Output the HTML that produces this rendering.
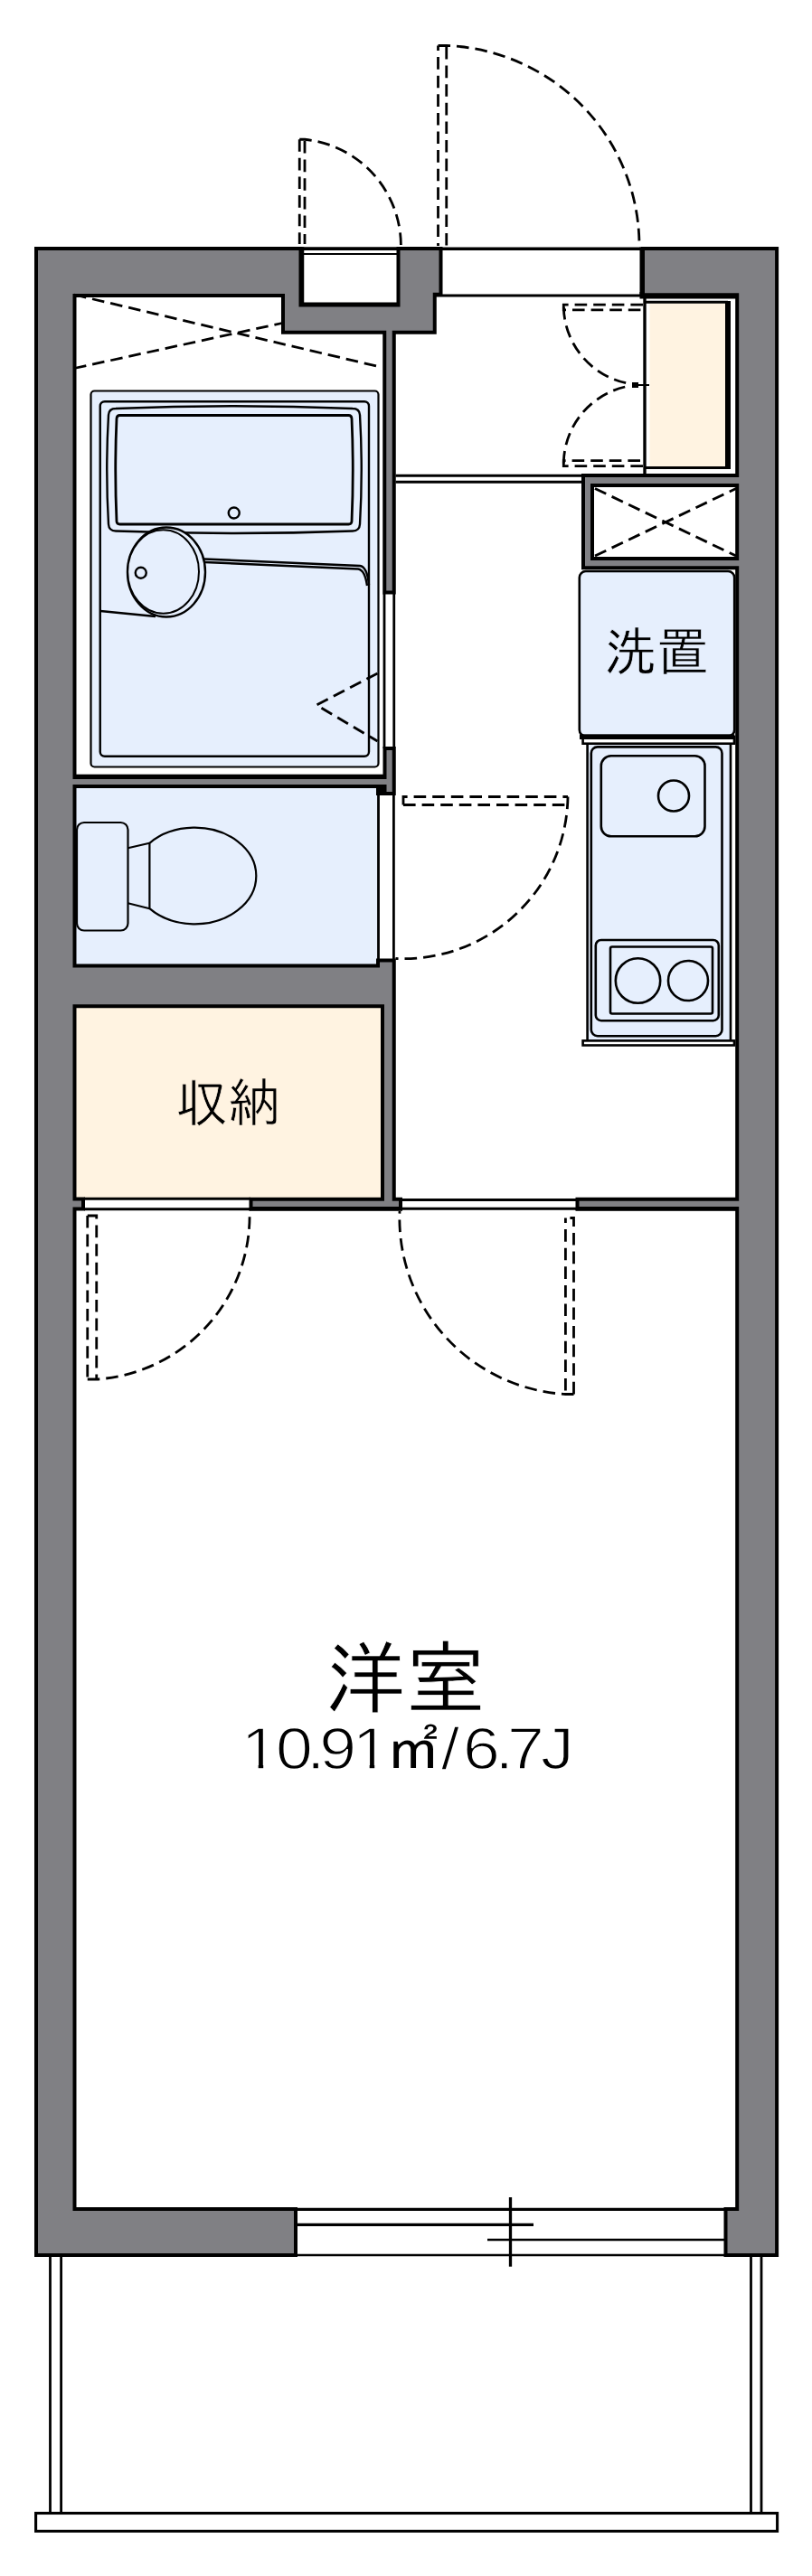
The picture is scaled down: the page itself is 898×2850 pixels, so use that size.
<!DOCTYPE html>
<html lang="ja">
<head>
<meta charset="utf-8">
<title>間取り図</title>
<style>
html,body{margin:0;padding:0;background:#fff}
body{width:898px;height:2850px;overflow:hidden}
svg{display:block}
text{font-family:"Liberation Sans","IPAGothic","Noto Sans CJK JP",sans-serif;fill:#000}
.thin{stroke:#fff;stroke-width:1.5px}
.k1{stroke:#fff;stroke-width:.7px}
.k2{stroke:#fff;stroke-width:.8px}
.dash{fill:none;stroke:#000;stroke-width:2.8;stroke-dasharray:13.6 7}
.ln{fill:none;stroke:#000;stroke-width:2.8}
.fx{fill:none;stroke:#000;stroke-width:2.4}
</style>
</head>
<body>
<svg width="898" height="2850" viewBox="0 0 898 2850">

<rect width="898" height="2850" fill="#fff"/>

<!-- room fills -->
<rect x="84" y="871" width="333" height="196" fill="#e6effd"/>
<rect x="84" y="1115" width="338" height="211" fill="#fff3e1"/>
<rect x="718.5" y="335.5" width="83.5" height="181" fill="#fff3e1"/>

<!-- walls -->
<g fill="#000">
<rect x="330.5" y="273.25" width="5.75" height="66"/>
<rect x="330.5" y="334.5" width="112" height="5"/>
<rect x="707.5" y="273.25" width="6" height="54.5"/>
<rect x="707.5" y="323" width="110" height="7.5"/>
<rect x="416" y="871" width="12" height="9"/>
<rect x="275.5" y="1336" width="169.5" height="3.8"/>
<rect x="636.5" y="1336" width="182" height="3.8"/>
<rect x="80" y="856.7" width="348" height="3"/>
</g>
<g fill="#808084" stroke="#000" stroke-width="8" stroke-linejoin="miter">
<path d="M42,277 H330.5 V339.5 H442.5 V277 H485.5 V323.75 H478.75 V365.75 H315 V325 H80.5 V2446 H325 V2493 H42 Z"/>
<path d="M713,277 H857.1 V2493 H804.5 V2446 H817.2 V324.3 H713 Z"/>
<rect x="427.25" y="360" width="6.5" height="293.5"/>
<rect x="427.5" y="830" width="6.25" height="46"/>
<rect x="80" y="862" width="350" height="6"/>
<path d="M80,1070.6 H420 V1064.5 H433.75 V1328.75 H441 V1335 H279.5 V1328.75 H425 V1111.25 H80 Z"/>
<rect x="640.5" y="1328.75" width="178" height="6.25"/>
<rect x="80" y="1328.5" width="10" height="7"/>
<path d="M647,528 H818.5 V535 H653 V620 H818.5 V626.25 H647 Z"/>
</g>
<g fill="#808084" stroke="none">
<path d="M42,277 H330.5 V339.5 H442.5 V277 H485.5 V323.75 H478.75 V365.75 H315 V325 H80.5 V2446 H325 V2493 H42 Z"/>
<path d="M713,277 H857.1 V2493 H804.5 V2446 H817.2 V324.3 H713 Z"/>
<rect x="427.25" y="360" width="6.5" height="293.5"/>
<rect x="427.5" y="830" width="6.25" height="46"/>
<rect x="80" y="862" width="350" height="6"/>
<path d="M80,1070.6 H420 V1064.5 H433.75 V1328.75 H441 V1335 H279.5 V1328.75 H425 V1111.25 H80 Z"/>
<rect x="640.5" y="1328.75" width="178" height="6.25"/>
<rect x="80" y="1328.5" width="10" height="7"/>
<path d="M647,528 H818.5 V535 H653 V620 H818.5 V626.25 H647 Z"/>
</g>

<!-- shoe cabinet lines -->
<g class="ln">
<line x1="713" y1="334.25" x2="805" y2="334.25"/>
<line x1="713" y1="517.5" x2="805" y2="517.5"/>
<line x1="713" y1="327" x2="713" y2="524" stroke-width="3.4"/>
</g>
<rect x="802" y="333" width="6" height="186" fill="#000"/>

<!-- thin frame lines -->
<g class="ln">
<line x1="334" y1="281" x2="440" y2="281" stroke-width="2"/>
<line x1="330.5" y1="275.1" x2="442.5" y2="275.1" stroke-width="3.75"/>
<line x1="489" y1="275.3" x2="708" y2="275.3" stroke-width="3.4"/>
<line x1="482" y1="327" x2="708" y2="327" stroke-width="3.2"/>
<line x1="437.5" y1="526.25" x2="643" y2="526.25"/>
<line x1="437.5" y1="533.25" x2="643" y2="533.25"/>
<line x1="425" y1="657" x2="425" y2="828"/>
<line x1="435.75" y1="657" x2="435.75" y2="828"/>
<line x1="418.5" y1="880" x2="418.5" y2="1061"/>
<line x1="435.4" y1="880" x2="435.4" y2="1061"/>
<line x1="93" y1="1326.25" x2="277" y2="1326.25"/>
<line x1="93" y1="1337.75" x2="277" y2="1337.75"/>
<line x1="444" y1="1327.5" x2="638" y2="1327.5"/>
<line x1="444" y1="1337.25" x2="638" y2="1337.25"/>
<!-- bottom window -->
<line x1="328" y1="2444.4" x2="803" y2="2444.4" stroke-width="3.3"/>
<line x1="328" y1="2461.4" x2="590" y2="2461.4" stroke-width="3.4"/>
<line x1="539" y1="2478" x2="803" y2="2478" stroke-width="2.4"/>
<line x1="328" y1="2494.9" x2="803" y2="2494.9" stroke-width="2.5"/>
<line x1="564.5" y1="2431" x2="564.5" y2="2507.7" stroke-width="3.3"/>
<!-- balcony -->
<line x1="55.5" y1="2496" x2="55.5" y2="2780" stroke-width="2.8"/>
<line x1="67.6" y1="2496" x2="67.6" y2="2780" stroke-width="2.8"/>
<line x1="830.5" y1="2496" x2="830.5" y2="2780" stroke-width="2.8"/>
<line x1="842" y1="2496" x2="842" y2="2780" stroke-width="2.8"/>
<rect x="39.6" y="2780.5" width="820" height="19.9" fill="#fff" stroke-width="3.1"/>
</g>

<!-- dashed doors -->
<g class="dash">
<path d="M331.25,154.25 V270"/>
<path d="M337,156 V270"/>
<path d="M331.25,154.25 H337 A118.2,118.2 0 0 1 443.4,272"/>
<path d="M484.5,50.5 V272" stroke-dashoffset="8"/>
<path d="M493.75,52 V272"/>
<path d="M484.5,50.5 H493.75 A221.6,221.6 0 0 1 707,272"/>
<path d="M711,337.2 H623.3 V342.8 H711"/>
<path d="M623.3,340 A88,88 0 0 0 693.5,424"/>
<path d="M711,515.7 H623.3 V509.7 H711"/>
<path d="M623.3,512.5 A88,88 0 0 1 693.5,427.5"/>
<path d="M82,326 L422.5,406.5"/>
<path d="M82,407.5 L312,357.5"/>
<path d="M658,540.5 L814,615"/>
<path d="M658,615 L814,540.5"/>
<path d="M446,890.5 V881.5 H628"/>
<path d="M446,890.5 H628"/>
<path d="M628,881.5 A182,182 0 0 1 437.5,1060.5"/>
<path d="M96.75,1345 V1526"/>
<path d="M96.75,1345 H106.75 V1526"/>
<path d="M96.75,1526 H106.75 A181.3,181.3 0 0 0 276,1340"/>
<path d="M625.4,1347.5 V1542.5" stroke-dashoffset="8"/>
<path d="M625.4,1347.5 H634.5 V1542.5" stroke-dashoffset="-5"/>
<path d="M634.5,1542.5 H625.4 A195,195 0 0 1 442,1340"/>
</g>
<path d="M699,423 h7 v2 h12 v2 h-12 v2 h-7 z" fill="#000"/>

<!-- bath unit -->
<rect x="100.5" y="432.5" width="318" height="416" rx="4" fill="#e6effd" stroke="#000" stroke-width="2.2"/>
<g class="fx">
<rect x="110.75" y="444.25" width="297.25" height="392.5" rx="5"/>
<path d="M128,452 Q259,446.5 390,452 Q397.5,452 398,459 Q401.5,520 398,580 Q397.5,587.5 390,587.5 Q259,592.5 128,587.5 Q120.5,587.5 120,580 Q116.5,520 120,459 Q120.5,452 128,452 Z"/>
<path d="M132.5,459.5 H385.5 Q388.75,459.5 389,463 Q391.5,520 389,577 Q388.75,580 385.5,580 H132.5 Q129.25,580 129,577 Q126.5,520 129,463 Q129.25,459.5 132.5,459.5 Z" stroke-width="2.8"/>
<circle cx="258.75" cy="567.5" r="6"/>
<ellipse cx="184" cy="633" rx="43" ry="49.5" fill="#e6effd"/>
<ellipse cx="180.6" cy="632.5" rx="39.4" ry="46.25" fill="#e6effd" stroke-width="2"/>
<circle cx="155.75" cy="633.75" r="6"/>
<path d="M111,676 L172,682"/>
<path d="M226,618.5 L398,626 Q406,627 408,647"/>
<path d="M226.5,622 L396,629.5 Q403.5,630.5 406,648"/>
</g>

<path class="dash" d="M417.5,745 L350,780 L417.5,820"/>

<!-- toilet -->
<g stroke="#000" stroke-width="2.2" fill="#e6effd">
<rect x="85" y="910" width="56.5" height="119.5" rx="8" fill="#e6effd"/>
<path d="M141.5,938.3 L165.4,932.8 M141.5,999.2 L165.4,1005.2" />
<path d="M165.4,932.8 A68,53.3 0 1 1 165.4,1005.2 Z" fill="#e6effd"/>
</g>

<!-- washing machine -->
<rect x="640.8" y="632" width="171.4" height="182.5" rx="7" fill="#e6effd" stroke="#000" stroke-width="2.6"/>

<!-- kitchen -->
<rect x="649.6" y="822" width="158.4" height="330" fill="#e6effd"/>
<rect x="644.6" y="815" width="167.4" height="7.7" fill="#fff" stroke="#000" stroke-width="2.6"/>
<rect x="641" y="812.3" width="171.3" height="5.7" fill="#000"/>
<rect x="644.6" y="1151.4" width="167.4" height="5.1" fill="#fff" stroke="#000" stroke-width="2.6"/>
<g class="fx" style="stroke-width:2.6">
<line x1="649.6" y1="822" x2="649.6" y2="1151"/>
<line x1="808" y1="822" x2="808" y2="1151"/>
<rect x="653.8" y="826.4" width="144.7" height="319.8" rx="7"/>
<rect x="664.8" y="836.3" width="114.7" height="89" rx="11"/>
<circle cx="745" cy="880.5" r="17"/>
<rect x="658.8" y="1040" width="136" height="89.2" rx="6"/>
<rect x="675" y="1047.5" width="113" height="74" rx="2"/>
<circle cx="705.5" cy="1085" r="24.7"/>
<circle cx="761" cy="1085" r="22"/>
</g>

<!-- labels -->
<text class="k1" style="stroke:#e6effd" x="726" y="742" font-size="58" text-anchor="middle">洗置</text>
<text class="k1" style="stroke:#fff3e1" x="252" y="1241" font-size="58" text-anchor="middle">収納</text>
<text class="k2" x="448.5" y="1888.5" font-size="89" text-anchor="middle">洋室</text>
<text transform="scale(1.13,1)" font-size="65"><tspan class="thin" x="236.1 270 300 312.7 344.96" y="1957.4">10.91</tspan><tspan x="374.1" y="1959.3" font-size="61.5">㎡</tspan><tspan class="thin" x="431.7 453.2 484.5 496.4 529.2" y="1957.4">/6.7J</tspan></text>
<path d="M270,1952 h15.7 v7 h-15.7z M291.2,1952 h14 v7 h-14z M393,1952 h15.7 v7 h-15.7z M414.2,1952 h14 v7 h-14z" fill="#fff"/>
</svg>
</body>
</html>
